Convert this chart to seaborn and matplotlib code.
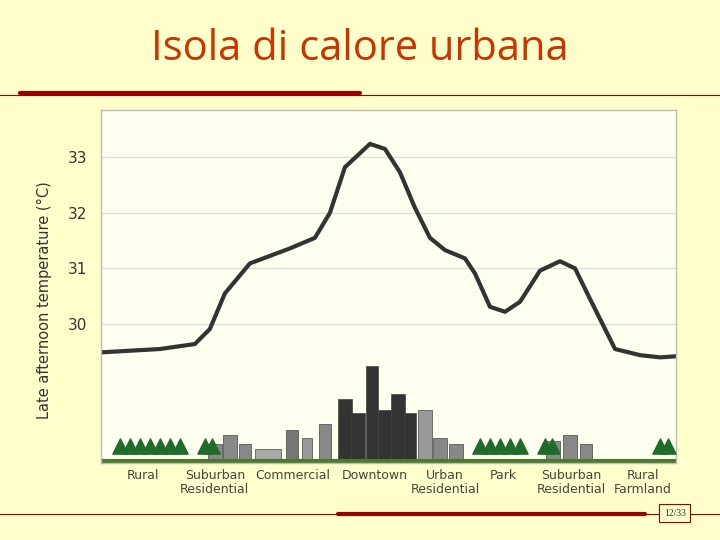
import matplotlib
matplotlib.use("Agg")
import matplotlib.pyplot as plt
import seaborn as sns
import pandas as pd

sns.set_theme(style="white")
plt.rcParams['font.family'] = ['DejaVu Sans']

# curve (position along transect, temperature)
pos = [101,160,195,210,225,250,290,315,330,345,370,385,400,415,430,445,465,475,490,505,520,540,560,575,590,600,615,640,660,676]
temp = [29.49,29.55,29.64,29.91,30.55,31.09,31.36,31.55,32.0,32.82,33.24,33.15,32.73,32.09,31.55,31.33,31.18,30.91,30.31,30.22,30.4,30.96,31.13,31.0,30.45,30.09,29.55,29.44,29.40,29.42]
zones = ["Rural", "Suburban\nResidential", "Commercial", "Downtown", "Urban\nResidential", "Park", "Suburban\nResidential", "Rural\nFarmland"]
zone_pos = [143, 215, 293, 375, 445, 503, 571, 643]
yticks = [30, 31, 32, 33]
# simple skyline buildings: (center, width, height in °C above baseline, color)
bld_x = [215,230,245,268,292,307,325,345,358,372,385,398,410,425,440,456,553,570,586]
bld_w = [14,14,12,26,12,10,12,14,14,12,14,14,12,14,14,14,14,14,12]
bld_h = [0.3,0.45,0.3,0.2,0.55,0.4,0.65,1.1,0.85,1.7,0.9,1.2,0.85,0.9,0.4,0.3,0.35,0.45,0.3]
bld_c = ['#888888','#888888','#888888','#aaaaaa','#777777','#999999','#888888','#333333','#333333','#333333','#333333','#333333','#333333','#999999','#888888','#888888','#888888','#888888','#888888']
trees_x = [120,130,140,150,160,170,180,205,212,480,490,500,510,520,545,552,660,668]

bg = '#FFFFCC'
fig = plt.figure(figsize=(7.2, 5.4), dpi=100, facecolor=bg)
ax = fig.add_axes([0.140, 0.1426, 0.799, 0.6537])
ax.set_facecolor('#FFFFF0')
df = pd.DataFrame({"pos": pos, "temp": temp})
sns.lineplot(data=df, x="pos", y="temp", ax=ax, color='#333333', lw=3, solid_joinstyle='round')
base = 27.5
ax.bar(bld_x, bld_h, width=bld_w, bottom=base + 0.05, color=bld_c, edgecolor='#444444', lw=0.5)
ax.scatter(trees_x, [base + 0.3] * len(trees_x), marker='^', s=120, color='#1f6b2a', zorder=3)
ax.axhline(base + 0.03, color='#4a7a2a', lw=3)
ax.set_xlim(101, 676)
ax.set_ylim(27.5, 33.85)
ax.set_yticks(yticks)
ax.set_yticklabels([str(t) for t in yticks], fontsize=11, color='#333333')
ax.set_xticks([])
ax.yaxis.grid(True, color='#dddddd', lw=1)
ax.set_xlabel("")
ax.set_ylabel("Late afternoon temperature (°C)", fontsize=10.5, color='#333333')
ax.yaxis.set_label_coords(-0.085, 0.46)
for s in ax.spines.values():
    s.set_color('#bbbbbb')
    s.set_linewidth(1)
for z, x in zip(zones, zone_pos):
    ax.text(x, 27.4, z, ha='center', va='top', fontsize=9, color='#444444', linespacing=1.1)

fig.text(0.5, 0.91, "Isola di calore urbana", ha='center', va='center', fontsize=30, color='#CC3300',
         family=['Open Sans', 'DejaVu Sans'])
fig.add_artist(plt.Line2D([0, 1], [0.825, 0.825], color='#990000', lw=0.8))
fig.add_artist(plt.Line2D([0.028, 0.5], [0.828, 0.828], color='#990000', lw=3))
fig.add_artist(plt.Line2D([0, 1], [0.048, 0.048], color='#990000', lw=0.8))
fig.add_artist(plt.Line2D([0.47, 0.896], [0.048, 0.048], color='#990000', lw=3))
fig.text(0.937, 0.050, "12/33", ha='center', va='center', fontsize=7, color='#333333',
         family='Liberation Serif',
         bbox=dict(boxstyle='square,pad=0.5', fc=bg, ec='#990000', lw=0.8))
fig.savefig("out.png", dpi=100, facecolor=bg)
